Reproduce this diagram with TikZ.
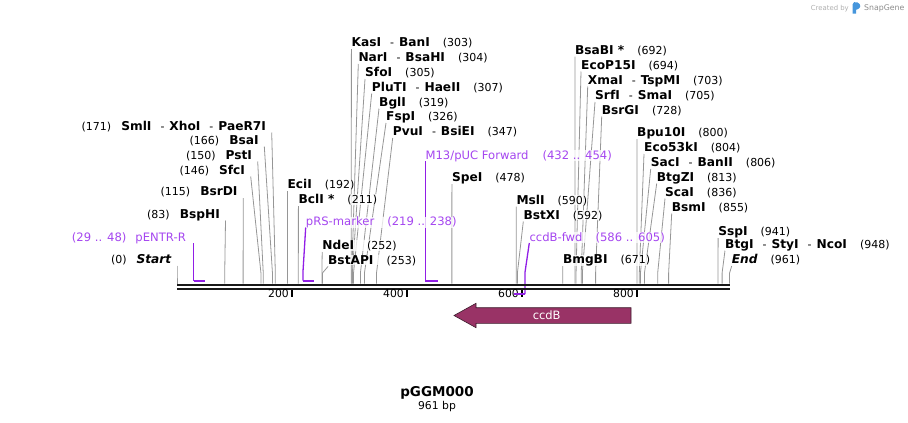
\documentclass[tikz,border=0pt]{standalone}
\usepackage{fontspec}
\setmainfont{DejaVu Sans}
\usetikzlibrary{backgrounds}
\definecolor{enzgray}{RGB}{150,150,150}
\definecolor{primtext}{RGB}{165,70,240}
\definecolor{primline}{RGB}{145,30,230}
\definecolor{ccdbfill}{RGB}{153,51,102}
\definecolor{ccdbline}{RGB}{60,30,45}
\definecolor{wmgray}{RGB}{175,175,175}
\definecolor{wmdark}{RGB}{140,140,140}
\definecolor{logoblue}{RGB}{70,150,220}
\newcommand{\enzn}[1]{{\fontsize{12.2}{14}\selectfont\bfseries #1}}
\newcommand{\posn}[1]{{\fontsize{11}{13}\selectfont(#1)}}
\newcommand{\esep}{\hspace{9pt}{\fontsize{11}{13}\selectfont-}\hspace{5pt}}
\newcommand{\rgap}{\hspace{13pt}}
\newcommand{\lgap}{\hspace{10pt}}
% right-side label: id, pos, linetop x, label centre y, text
\newcommand{\REnz}[5]{%
  \node[lab,anchor=base west] (#1) at (#3,#4+4) {#5};
  \coordinate (#1k) at ({177+0.575*#2},273);
  \coordinate (#1b) at ({177+0.575*#2},283.5);
  \begin{pgfonlayer}{background}
  \draw[enz] ([yshift=-2.5pt]#1.base west) -- (#1k) -- (#1b);
  \end{pgfonlayer}}
% left-side label
\newcommand{\LEnz}[5]{%
  \node[lab,anchor=base east] (#1) at (#3-5.5,#4+4) {#5};
  \coordinate (#1k) at ({177+0.575*#2},273);
  \coordinate (#1b) at ({177+0.575*#2},283.5);
  \begin{pgfonlayer}{background}
  \draw[enz] ([xshift=5.5pt,yshift=-2.5pt]#1.base east) -- (#1k) -- (#1b);
  \end{pgfonlayer}}
\begin{document}
\begin{tikzpicture}[x=1pt,y=-1pt,
  lab/.style={inner sep=0pt,fill=white,fill opacity=0.75,text opacity=1},
  enz/.style={draw=enzgray,line width=0.8pt},
  prim/.style={draw=primline,line width=1.3pt},
  primbar/.style={draw=primline,line width=2pt},
  primlab/.style={inner sep=0pt,fill=white,fill opacity=0.75,text opacity=1,text=primtext,font=\fontsize{11.6}{13}\selectfont},
  backbone/.style={draw=black!90,line width=2pt},
  tickmark/.style={draw=black,line width=1.5pt},
  ticklab/.style={inner sep=0pt,font=\fontsize{10.8}{12}\selectfont},
]
\useasboundingbox (0,0) rectangle (908,423);

% watermark
\node[inner sep=0pt,anchor=base east,text=wmgray,font=\fontsize{6.9}{8}\selectfont] (wm1) at (849,10) {Created by};
\fill[logoblue] (852.5,13.5) -- (852.5,4.5) .. controls (852.5,2) and (855,1.5) .. (857.5,2.5) .. controls (861.5,4) and (861,8.5) .. (857,9.5) -- (856,9.5) -- (856,13.5) -- cycle;
\node[inner sep=0pt,anchor=base west,text=wmdark,font=\fontsize{7.8}{9}\selectfont] (wm2) at (864,10.5) {SnapGene};

% left labels
\LEnz{st}{0}{177}{259}{\posn{0}\lgap{\fontsize{12.2}{14}\selectfont\bfseries\itshape Start}}
\LEnz{bsph}{83}{225.5}{214}{\posn{83}\lgap\enzn{BspHI}}
\LEnz{bsrd}{115}{243.2}{191.5}{\posn{115}\lgap\enzn{BsrDI}}
\LEnz{sfc}{146}{250.7}{170}{\posn{146}\lgap\enzn{SfcI}}
\LEnz{pst}{150}{257.7}{155}{\posn{150}\lgap\enzn{PstI}}
\LEnz{bsa}{166}{264.3}{140}{\posn{166}\lgap\enzn{BsaI}}
\LEnz{sml}{171}{271.7}{126}{\posn{171}\lgap\enzn{SmlI}\esep\enzn{XhoI}\esep\enzn{PaeR7I}}

% right labels
\REnz{eci}{192}{287.4}{184.5}{\enzn{EciI}\rgap\posn{192}}
\REnz{bcl}{211}{298.4}{199.5}{\enzn{BclI *}\rgap\posn{211}}
\REnz{nde}{252}{322.2}{245.5}{\enzn{NdeI}\rgap\posn{252}}
\REnz{bstap}{253}{328}{260}{\enzn{BstAPI}\rgap\posn{253}}
\REnz{kas}{303}{351.4}{42.5}{\enzn{KasI}\esep\enzn{BanI}\rgap\posn{303}}
\REnz{nar}{304}{358.3}{57.5}{\enzn{NarI}\esep\enzn{BsaHI}\rgap\posn{304}}
\REnz{sfo}{305}{365}{72.5}{\enzn{SfoI}\rgap\posn{305}}
\REnz{plut}{307}{371.7}{87}{\enzn{PluTI}\esep\enzn{HaeII}\rgap\posn{307}}
\REnz{bgl}{319}{379}{102}{\enzn{BglI}\rgap\posn{319}}
\REnz{fsp}{326}{386}{116.5}{\enzn{FspI}\rgap\posn{326}}
\REnz{pvu}{347}{392.7}{131.5}{\enzn{PvuI}\esep\enzn{BsiEI}\rgap\posn{347}}
\REnz{spe}{478}{451.9}{177.5}{\enzn{SpeI}\rgap\posn{478}}
\REnz{msl}{590}{516.3}{200}{\enzn{MslI}\rgap\posn{590}}
\REnz{bstx}{592}{523.3}{215}{\enzn{BstXI}\rgap\posn{592}}
\REnz{bmgb}{671}{562.8}{259.5}{\enzn{BmgBI}\rgap\posn{671}}
\REnz{bsab}{692}{574.9}{50}{\enzn{BsaBI *}\rgap\posn{692}}
\REnz{ecop}{694}{581}{65}{\enzn{EcoP15I}\rgap\posn{694}}
\REnz{xma}{703}{587.7}{80}{\enzn{XmaI}\esep\enzn{TspMI}\rgap\posn{703}}
\REnz{srf}{705}{595}{95.5}{\enzn{SrfI}\esep\enzn{SmaI}\rgap\posn{705}}
\REnz{bsrg}{728}{601.7}{110}{\enzn{BsrGI}\rgap\posn{728}}
\REnz{bpu}{800}{637}{132.5}{\enzn{Bpu10I}\rgap\posn{800}}
\REnz{ecof}{804}{644}{147.5}{\enzn{Eco53kI}\rgap\posn{804}}
\REnz{sac}{806}{650.7}{162.5}{\enzn{SacI}\esep\enzn{BanII}\rgap\posn{806}}
\REnz{btgz}{813}{656.7}{177}{\enzn{BtgZI}\rgap\posn{813}}
\REnz{sca}{836}{665}{192}{\enzn{ScaI}\rgap\posn{836}}
\REnz{bsm}{855}{671.7}{207}{\enzn{BsmI}\rgap\posn{855}}
\REnz{ssp}{941}{718.1}{231.5}{\enzn{SspI}\rgap\posn{941}}
\REnz{btg}{948}{725}{244}{\enzn{BtgI}\esep\enzn{StyI}\esep\enzn{NcoI}\rgap\posn{948}}
\REnz{endl}{961}{731.7}{259.5}{{\fontsize{12.2}{14}\selectfont\bfseries\itshape End}\rgap\posn{961}}

% primers
\node[primlab,anchor=base east] (pentr) at (186,241) {(29 .. 48)\hspace{9pt}pENTR-R};
\coordinate (pentrk) at (193.7,280.5);
\coordinate (pentre) at (204.6,280.5);
\begin{pgfonlayer}{background}
\draw[prim] ([xshift=7.7pt,yshift=-2pt]pentr.base east) -- (pentrk);
\end{pgfonlayer}
\draw[primbar] (pentrk) -- (pentre);

\node[primlab,anchor=base west] (prs) at (305.7,225.5) {pRS-marker\hspace{13pt}(219 .. 238)};
\coordinate (prsk) at (302.9,273);
\coordinate (prss) at (302.9,280.5);
\coordinate (prse) at (313.9,280.5);
\begin{pgfonlayer}{background}
\draw[prim] ([yshift=-2pt]prs.base west) -- (prsk) -- (prss);
\end{pgfonlayer}
\draw[primbar] (prss) -- (prse);

\node[primlab,anchor=base west] (m13) at (425.4,159) {M13/pUC Forward\hspace{14pt}(432 .. 454)};
\coordinate (m13s) at (425.4,280.5);
\coordinate (m13e) at (438.0,280.5);
\begin{pgfonlayer}{background}
\draw[prim] ([yshift=-2pt]m13.base west) -- (m13s);
\end{pgfonlayer}
\draw[primbar] (m13s) -- (m13e);

\node[primlab,anchor=base west] (cfwd) at (529.3,241) {ccdB-fwd\hspace{13pt}(586 .. 605)};
\coordinate (cfwdk) at (524.9,273);
\coordinate (cfwds) at (524.9,294);
\coordinate (cfwde) at (514.0,294);
\begin{pgfonlayer}{background}
\draw[prim] ([yshift=-2pt]cfwd.base west) -- (cfwdk) -- (cfwds);
\end{pgfonlayer}

% backbone
\draw[backbone] (177,284.5) -- (730,284.5);
\draw[backbone] (177,289) -- (730,289);

% ticks
\foreach \v in {200,400,600,800}{
  \draw[tickmark] ({177+0.575*\v},290) -- ({177+0.575*\v},297);
  \node[ticklab,anchor=base east] (t\v) at ({177+0.575*\v-3},297.5) {\v};
}
\draw[primbar] (cfwds) -- (cfwde);

% ccdB feature
\draw[fill=ccdbfill,draw=ccdbline,line width=0.6pt]
  (631,307.7) -- (476,307.7) -- (476,303.3) -- (454,315.5) -- (476,327.7) -- (476,323.3) -- (631,323.3) -- cycle;
\node[inner sep=0pt,text=white,font=\fontsize{11.5}{13}\selectfont] (ccdb) at (546.7,315) {ccdB};

% title
\node[inner sep=0pt,font=\fontsize{13.5}{15}\selectfont\bfseries] (title) at (437,393) {pGGM000};
\node[inner sep=0pt,font=\fontsize{10.8}{12}\selectfont] (bp) at (437,407) {961 bp};
\end{tikzpicture}
\end{document}
